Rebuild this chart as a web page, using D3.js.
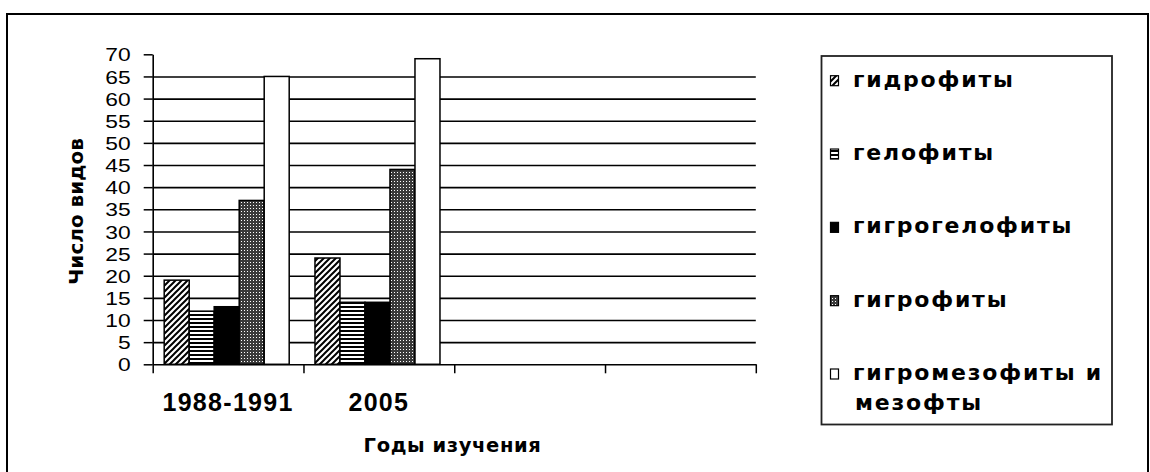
<!DOCTYPE html>
<html>
<head>
<meta charset="utf-8">
<script src="https://cdn.jsdelivr.net/npm/d3@7"></script>
<style>
  html, body { margin: 0; padding: 0; background: #fff; }
  svg { display: block; }
</style>
</head>
<body>
<svg id="chart" width="1150" height="472"></svg>
<script>
// ---------------- data ----------------
const categories = ["1988-1991", "2005", "", ""];
const seriesKeys = ["hydro", "helo", "hygrohelo", "hygro", "hygromeso"];
const seriesLabels = [
  ["гидрофиты"],
  ["гелофиты"],
  ["гигрогелофиты"],
  ["гигрофиты"],
  ["гигромезофиты и", "мезофты"]
];
const hydrophytes     = [19, 24];
const helophytes      = [12, 14];
const hygrohelophytes = [13, 14];
const hygrophytes     = [37, 44];
const hygromesophytes = [65, 69];
const yTickValues = [0, 5, 10, 15, 20, 25, 30, 35, 40, 45, 50, 55, 60, 65, 70];
const yTitle = "Число видов";
const xTitle = "Годы изучения";

const seriesValues = [hydrophytes, helophytes, hygrohelophytes, hygrophytes, hygromesophytes];

// ---------------- layout ----------------
const svg = d3.select("#chart");
const plotLeft = 152.7, plotRight = 755.8, plotBottom = 364.3, plotTop = 54.3;

// outer frame
svg.append("rect")
  .attr("x", 7).attr("y", 14).attr("width", 1141).attr("height", 480)
  .attr("fill", "#fff").attr("stroke", "#000").attr("stroke-width", 2);

// patterns
const defs = svg.append("defs");
const pHatch = defs.append("pattern").attr("id", "p-hydro")
  .attr("patternUnits", "userSpaceOnUse").attr("width", 6).attr("height", 6);
pHatch.append("rect").attr("width", 6).attr("height", 6).attr("fill", "#fff");
pHatch.append("path").attr("d", "M-1,1 L1,-1 M0,6 L6,0 M5,7 L7,5")
  .attr("stroke", "#000").attr("stroke-width", 2);

const pHoriz = defs.append("pattern").attr("id", "p-helo")
  .attr("patternUnits", "userSpaceOnUse").attr("width", 4).attr("height", 4);
pHoriz.append("rect").attr("width", 4).attr("height", 4).attr("fill", "#fff");
pHoriz.append("rect").attr("y", 2).attr("width", 4).attr("height", 2).attr("fill", "#000");

const pDots = defs.append("pattern").attr("id", "p-hygro")
  .attr("patternUnits", "userSpaceOnUse").attr("width", 3).attr("height", 3);
pDots.append("rect").attr("width", 3).attr("height", 3).attr("fill", "#3a3a3a");
pDots.append("rect").attr("x", 1).attr("y", 1).attr("width", 1).attr("height", 1).attr("fill", "#fff");

const fills = {
  hydro: "url(#p-hydro)",
  helo: "url(#p-helo)",
  hygrohelo: "#000",
  hygro: "url(#p-hygro)",
  hygromeso: "#fff"
};

// scales
const x = d3.scaleBand().domain(d3.range(categories.length))
  .range([plotLeft, plotRight]).paddingInner(0).paddingOuter(0);
const xInner = d3.scaleBand().domain(seriesKeys)
  .range([11.5, 136.5]).padding(0);
const xEdge = d3.scaleLinear().domain([0, categories.length]).range([plotLeft, plotRight]);
const y = d3.scaleLinear().domain([0, 70]).range([plotBottom, plotTop]);

// gridlines
const grid = svg.append("g").attr("transform", `translate(${plotLeft},0)`)
  .call(d3.axisLeft(y).tickValues(yTickValues.filter(v => v > 0 && v < 70))
    .tickSize(-(plotRight - plotLeft)).tickFormat(""));
grid.select(".domain").remove();
grid.selectAll("line").attr("stroke", "#000").attr("stroke-width", 1.6);

// bars
const barData = [];
seriesKeys.forEach((k, si) => {
  seriesValues[si].forEach((v, ci) => barData.push({ k, ci, v }));
});
svg.append("g").selectAll("rect").data(barData).join("rect")
  .attr("x", d => x(d.ci) + xInner(d.k))
  .attr("width", xInner.bandwidth())
  .attr("y", d => y(d.v))
  .attr("height", d => y(0) - y(d.v))
  .attr("fill", d => fills[d.k])
  .attr("stroke", "#000").attr("stroke-width", 1.5);

// y axis
const yAxis = svg.append("g").attr("transform", `translate(${plotLeft},0)`)
  .call(d3.axisLeft(y).tickValues(yTickValues).tickSize(9).tickSizeOuter(0).tickPadding(13));
yAxis.select(".domain").attr("stroke", "#000").attr("stroke-width", 1.6);
yAxis.selectAll("line").attr("stroke", "#000").attr("stroke-width", 1.5);
yAxis.selectAll(".tick text").each(function () {
  const t = d3.select(this);
  const ty = +t.attr("y") || 0;
  const tx = +t.attr("x") || 0;
  t.attr("x", null).attr("y", null)
   .attr("transform", `translate(${tx},${ty}) scale(1.2,1)`)
   .attr("font-family", "'Liberation Sans', Arial, sans-serif")
   .attr("font-size", 19).attr("fill", "#000").attr("dy", "0.35em");
});

// x axis boundary ticks
const xAxis = svg.append("g").attr("transform", `translate(0,${plotBottom})`)
  .call(d3.axisBottom(xEdge).tickValues(d3.range(categories.length + 1))
    .tickSize(9).tickSizeOuter(0).tickFormat(""));
xAxis.select(".domain").attr("stroke", "#000").attr("stroke-width", 1.6);
xAxis.selectAll("line").attr("stroke", "#000").attr("stroke-width", 1.5);

// x category labels
const xLab = svg.append("g").attr("transform", `translate(0,${plotBottom})`)
  .call(d3.axisBottom(x).tickSize(0).tickPadding(29).tickFormat(i => categories[i]));
xLab.select(".domain").remove();
xLab.selectAll("text")
  .attr("font-family", "'Liberation Sans', Arial, sans-serif")
  .attr("font-weight", "bold").attr("font-size", 25)
  .attr("letter-spacing", "1.3px").attr("fill", "#000");

// axis titles
svg.append("text")
  .attr("transform", "translate(83,211.5) rotate(-90)")
  .attr("text-anchor", "middle")
  .attr("font-family", "'DejaVu Sans', sans-serif").attr("font-weight", "bold")
  .attr("font-size", 20).attr("fill", "#000")
  .text(yTitle);

svg.append("text")
  .attr("x", 452.5).attr("y", 452)
  .attr("text-anchor", "middle")
  .attr("font-family", "'DejaVu Sans', sans-serif").attr("font-weight", "bold")
  .attr("font-size", 19.5).attr("letter-spacing", "0.6px").attr("fill", "#000")
  .text(xTitle);

// legend
const legend = svg.append("g");
legend.append("rect")
  .attr("x", 821.5).attr("y", 56).attr("width", 290.5).attr("height", 368.5)
  .attr("fill", "#fff").attr("stroke", "#222").attr("stroke-width", 1.8);

const rowY = d3.scaleLinear().domain([0, 4]).range([86.7, 380]);
const items = legend.selectAll("g.item").data(seriesKeys).join("g").attr("class", "item");
items.append("rect")
  .attr("x", 830.5).attr("y", (d, i) => rowY(i) - 11)
  .attr("width", 8).attr("height", 10)
  .attr("fill", d => fills[d]).attr("stroke", "#000").attr("stroke-width", 1.2);
items.each(function (d, i) {
  const t = d3.select(this).append("text")
    .attr("font-family", "'DejaVu Sans', sans-serif").attr("font-weight", "bold")
    .attr("font-size", 22).attr("letter-spacing", "1.8px").attr("fill", "#000");
  seriesLabels[i].forEach((line, li) => {
    t.append("tspan").attr("x", 853 + (li ? 2 : 0)).attr("y", rowY(i) + li * 30).text(line);
  });
});
</script>
</body>
</html>
